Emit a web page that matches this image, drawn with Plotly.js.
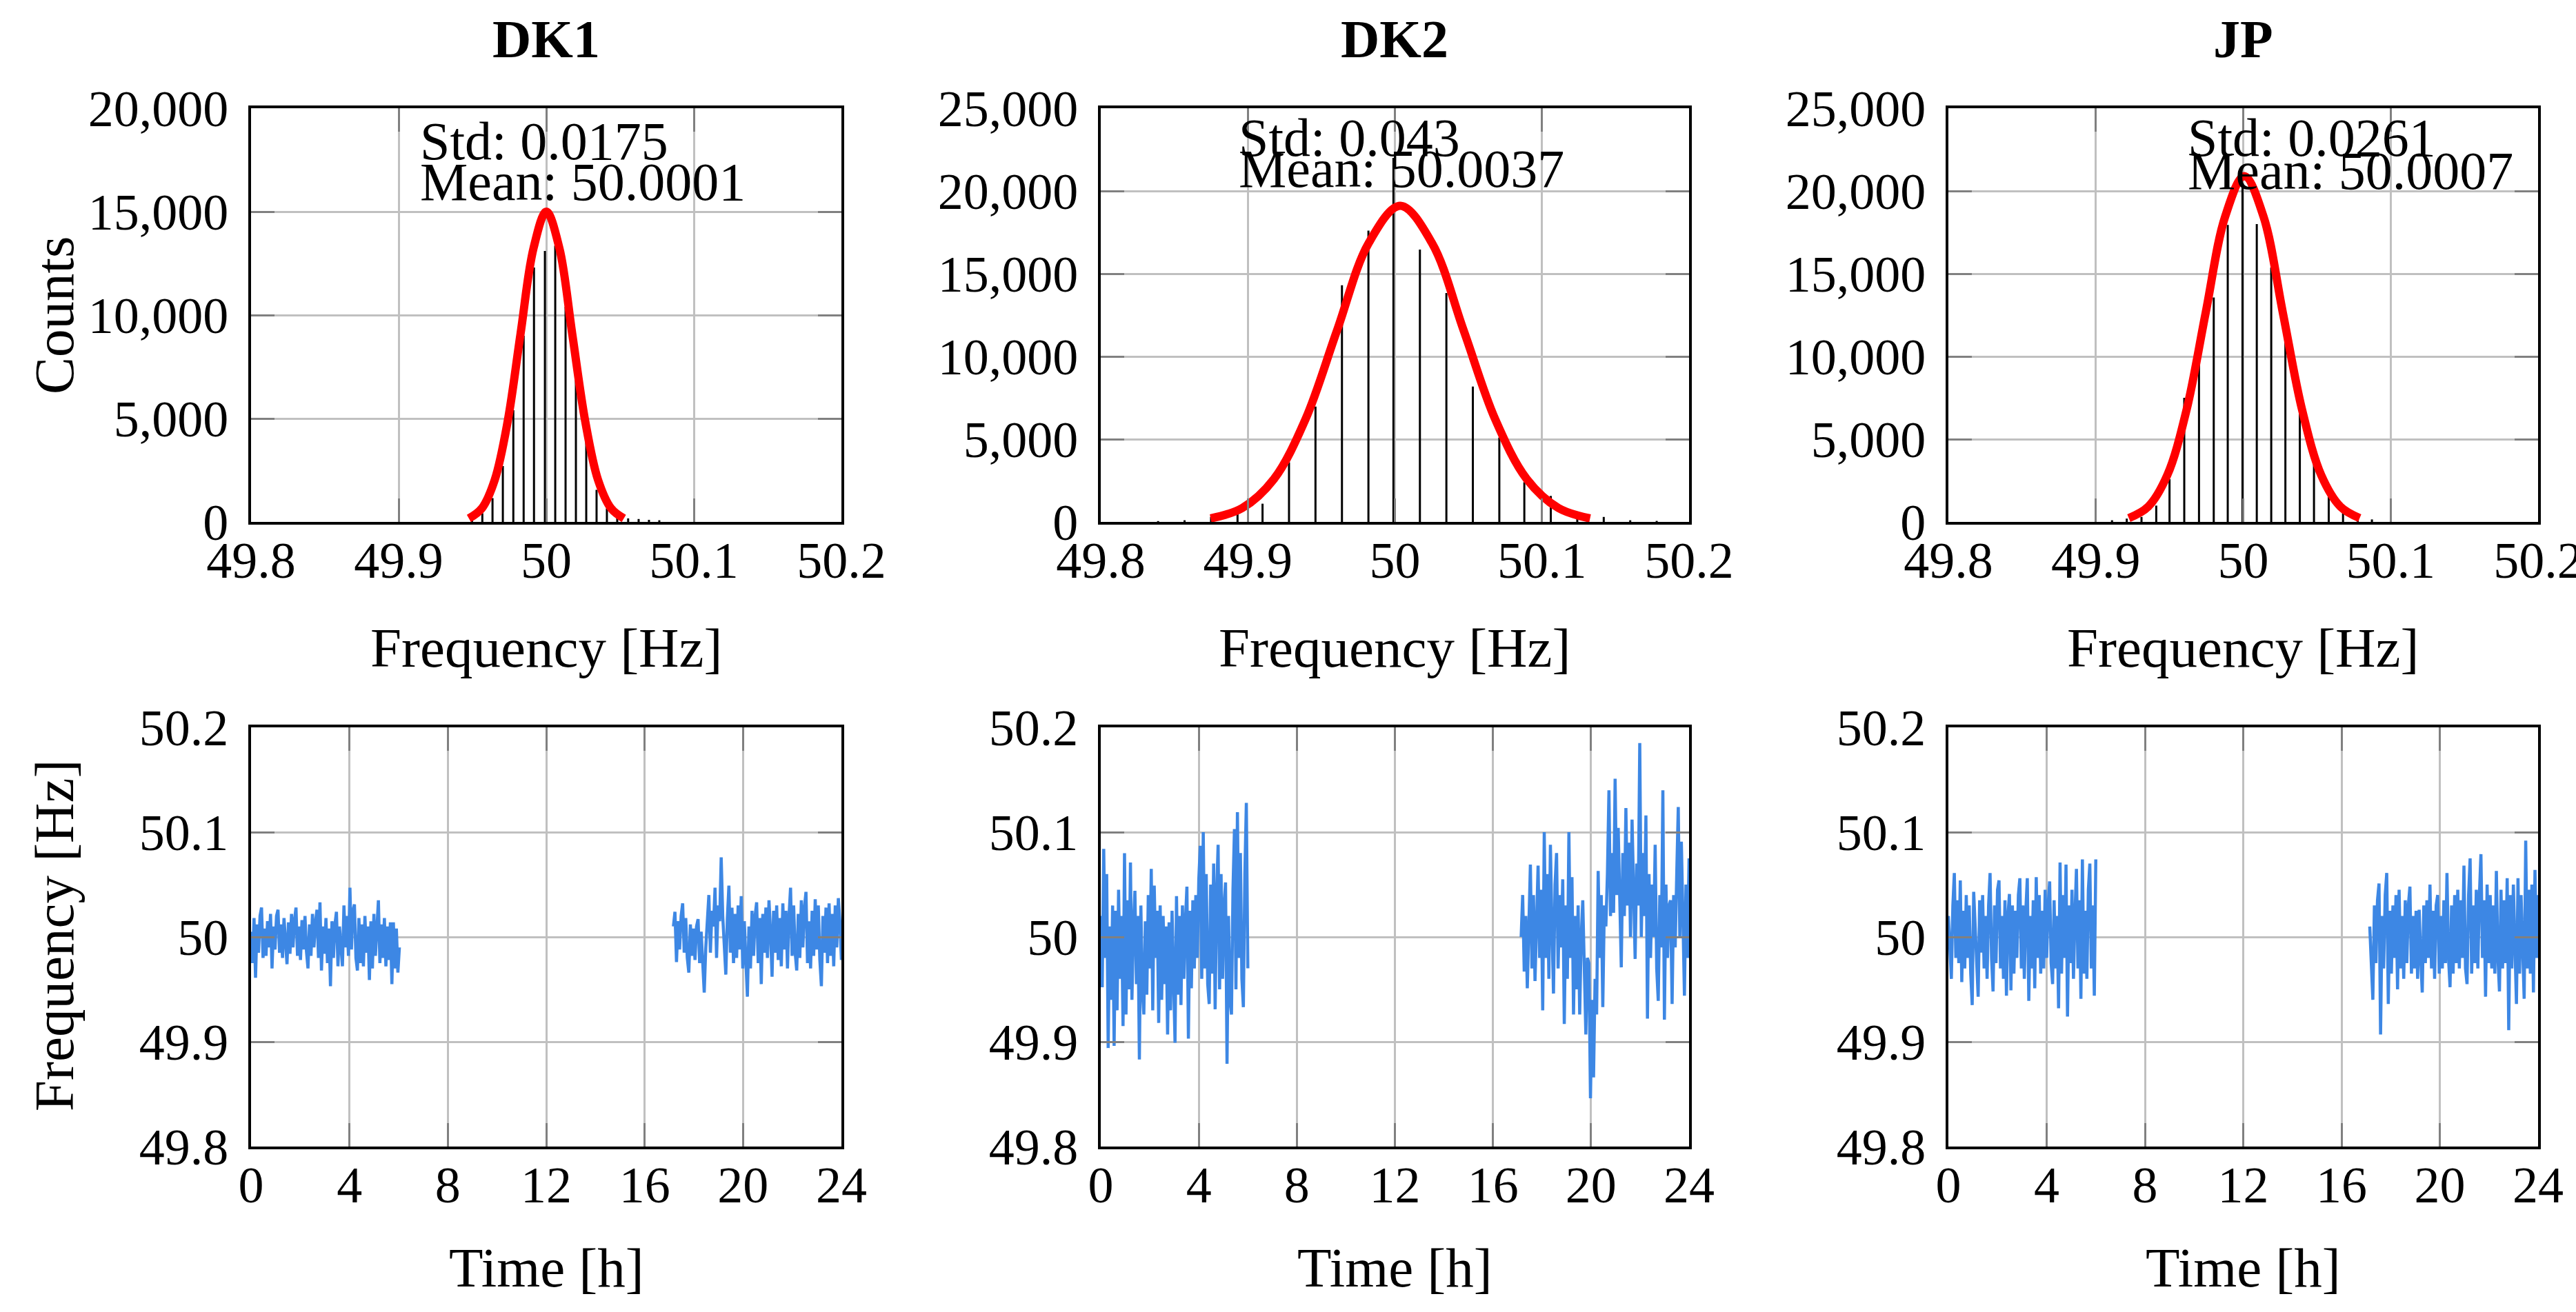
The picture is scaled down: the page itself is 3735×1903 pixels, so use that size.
<!DOCTYPE html>
<html>
<head>
<meta charset="utf-8">
<script src="https://cdn.plot.ly/plotly-3.0.1.min.js"></script>
<style>
  html, body { margin: 0; padding: 0; background: #fff; }
  #chart { width: 3735px; height: 1903px; }
</style>
</head>
<body>
<div id="chart"></div>
<script>
// ---- data ----
const regions = ['DK1', 'DK2', 'JP'];

const freqTicks = [49.8, 49.9, 50, 50.1, 50.2];
const freqTickText = ['49.8', '49.9', '50', '50.1', '50.2'];
const hourTicks = [0, 4, 8, 12, 16, 20, 24];

const fitStd = ['0.0175', '0.043', '0.0261'];
const fitMean = ['50.0001', '50.0037', '50.0007'];
const countMax = [20000, 25000, 25000];

// histogram bins (Hz) and counts
const dk1BinHz = [49.9497, 49.9567, 49.9636, 49.9706, 49.9777, 49.9847, 49.9917, 49.9991, 50.0061, 50.0131,
                  50.0201, 50.0271, 50.0341, 50.0411, 50.0481, 50.0555, 50.0626, 50.0696, 50.0766];
const dk1Counts = [100, 420, 1150, 2700, 5400, 9000, 12300, 13100, 13360, 10400,
                   6900, 3850, 1550, 650, 200, 170, 140, 100, 80];

const dk2BinHz = [49.839, 49.857, 49.875, 49.893, 49.910, 49.928, 49.946, 49.964, 49.982, 49.999,
                  50.017, 50.035, 50.053, 50.071, 50.088, 50.106, 50.124, 50.142, 50.160, 50.178];
const dk2Counts = [50, 100, 300, 550, 1100, 3600, 6970, 14300, 17600, 22000,
                   16460, 13830, 8180, 5100, 2400, 1570, 630, 300, 100, 60];

const jpBinHz = [49.911, 49.921, 49.931, 49.941, 49.950, 49.960, 49.970, 49.980, 49.9895, 49.9995,
                 50.0092, 50.019, 50.0286, 50.0384, 50.048, 50.058, 50.0677, 50.0777, 50.0873];
const jpCounts = [100, 200, 300, 985, 2580, 7500, 9600, 13560, 17950, 20300,
                  18000, 15380, 10980, 6590, 3560, 1590, 530, 230, 150];

// red normal fit, sampled every half std
const dk1FitHz = [49.9476, 49.9564, 49.9651, 49.9739, 49.9826, 49.9914, 50.0001, 50.0089, 50.0176, 50.0264, 50.0351, 50.0439, 50.0526];
const dk1FitCounts = [167, 659, 2030, 4871, 9098, 13238, 15000, 13238, 9098, 4871, 2030, 659, 167];
const dk2FitHz = [49.8747, 49.8962, 49.9177, 49.9392, 49.9607, 49.9822, 50.0037, 50.0252, 50.0467, 50.0682, 50.0897, 50.1112, 50.1327];
const dk2FitCounts = [212, 838, 2584, 6202, 11584, 16856, 19100, 16856, 11584, 6202, 2584, 838, 212];
const jpFitHz = [49.9224, 49.9355, 49.9485, 49.9616, 49.9746, 49.9877, 50.0007, 50.0138, 50.0268, 50.0399, 50.0529, 50.0660, 50.0790];
const jpFitCounts = [232, 918, 2828, 6786, 12675, 18445, 20900, 18445, 12675, 6786, 2828, 918, 232];

// time series: deviation from 50 Hz in mHz, two recorded windows per region
const dk1SpanA = [0, 6.03];
const dk1DevA = [5, -25, 18, -39, 12, -15, 20, 28, -20, 8,
  -18, 15, -10, 22, -30, 10, -12, 20, 26, -15,
  12, -20, 18, -8, -26, 14, -16, 22, -10, 16,
  28, -18, 10, -22, 16, -12, 20, -14, -30, 12,
  -18, 22, -10, 14, 26, -20, 33, -32, 10, -16,
  18, -25, 8, -47, 15, -20, 12, 24, -28, 10,
  -15, -28, 30, -10, 20, -18, 47, -12, 25, 31,
  -20, -32, 18, -25, 12, -28, 20, -15, 10, -41,
  15, -30, 22, -18, 8, 35, -25, 12, -20, 18,
  -28, 10, -22, 14, -45, 14, -30, 8, -34, -10];
const dk1SpanB = [17.17, 24];
const dk1DevB = [10, 24, -24, 15, -12, 20, 32, -15, 18, -20,
  -34, 12, -18, 8, -22, 10, 17, -25, 5, -28,
  -53, -10, 20, 40, -15, 25, 10, 47, -20, 30,
  15, 76, 20, -10, -36, 18, 49, -15, 28, -25,
  22, -20, 30, -12, 39, -30, 15, -22, -57, 10,
  -30, 25, -18, 20, 33, -25, 18, -45, 22, -15,
  28, -20, 35, 5, -38, 25, -15, 30, -22, 18,
  -28, 32, -12, 25, -30, 20, 47, -18, 30, -15,
  -32, 22, -20, 35, -10, 28, 43, -25, 15, -30,
  25, -18, 36, -12, 30, -22, -47, 20, -15, 28,
  -25, 32, -18, 22, -28, 30, -10, 37, 15, -22];

const dk2SpanA = [0, 6.0];
const dk2DevA = [20, -48, 84, -20, 60, -106, 10, -60, 30, -104,
  25, -70, 45, -40, 20, -85, 80, -74, 35, -50,
  71, -60, 10, 44, -45, 20, -117, 30, -50, -74,
  15, -55, 40, -30, 65, -70, 49, -20, 25, -82,
  30, -60, 20, -45, 10, -93, 14, -70, 25, -40,
  -101, 39, -55, 20, -65, 30, -40, 15, 48, -97,
  25, -49, 35, -30, 40, -20, 55, 87, -40, 100,
  -30, 60, -45, -64, 50, -35, 70, -69, 40, 88,
  -50, 60, -40, 30, 52, -121, 20, -60, -74, 45,
  103, -50, 119, -20, 80, -40, -67, 60, 128, -30];
const dk2SpanB = [17.15, 24];
const dk2DevB = [0, 40, -33, 20, -49, 30, 69, -30, 40, -42,
  20, 68, -20, 45, -70, 100, -20, 60, -40, 88,
  10, -54, 50, 80, -30, 40, -10, 55, -83, 30,
  -40, 100, -20, 57, -74, 20, -50, 30, -74, 0,
  35, -40, -93, -20, -25, -154, -60, -134, -40, -74,
  63, -20, 40, -67, 30, 10, 60, 140, 20, 80,
  23, 151, 40, 104, 50, -29, 80, 20, 123, 30,
  90, 0, 112, 40, -21, 70, 30, 185, 0, 80,
  20, 116, -78, 60, -20, 50, 0, 88, -30, -61,
  40, -10, 140, -79, 50, -20, 30, 35, -64, 40,
  -10, 60, 124, 0, 91, 20, -56, 50, -20, 75];

const jpSpanA = [0, 6.0];
const jpDevA = [20, -10, -40, 30, 61, -20, 35, -25, 54, -43,
  25, -30, 40, -20, 30, -35, -65, 43, 10, -30,
  -57, 35, -15, 40, -30, 20, -40, 30, 61, -20,
  -52, 30, -25, 45, 54, -30, 20, -40, 35, -56,
  20, 41, -51, 30, -35, 25, -20, 40, 56, -30,
  30, -40, 25, 56, -61, 20, -30, 35, -49, 57,
  -20, 40, -35, 25, -30, 45, -20, 30, 53, -25,
  -45, 35, -30, 20, -68, 71, -35, 40, -20, 69,
  -76, 30, -25, 45, -40, 20, 65, -30, 35, -59,
  74, -35, 25, -40, 45, 70, -30, 30, -56, 74];
const jpSpanB = [17.15, 24];
const jpDevB = [10, -20, -60, 30, -25, 35, 51, -93, 20, -30,
  40, 61, -64, 25, -35, 30, -20, 40, -50, 45,
  -30, 20, -40, 35, -25, 30, 48, -35, 20, -30,
  25, -40, 26, -20, -53, 30, -25, 35, -20, 50,
  -30, 25, -40, 30, 40, -35, 20, -30, 35, -25,
  61, -20, -48, 30, -35, 40, -25, 45, -30, 35,
  -20, 68, -30, -45, 40, 75, -35, 30, -25, 45,
  -30, 40, 79, -20, 35, -57, 50, -25, 40, -30,
  30, -35, 63, -20, -52, 45, -30, 35, -25, 56,
  -89, 40, -30, 50, -20, -64, 56, -35, 40, -25,
  -59, 92, -30, 45, -35, 50, -53, 64, -20, 40];

// ---- layout helpers ----
const W = 3735, H = 1903;
const colPx = [[364, 1220], [1596, 2449], [2825, 3680]];
const topRowPx = [157, 757];
const botRowPx = [1055, 1663];
const FONT = '"Liberation Serif", "Times New Roman", serif';

const px = v => v / W;
const py = v => 1 - v / H;

function segment(span, devs) {
    const step = (span[1] - span[0]) / (devs.length - 1);
    return {
        t: devs.map((_, i) => span[0] + i * step),
        f: devs.map(d => 50 + d / 1000)
    };
}

function joinSegments(a, b) {
    return { t: a.t.concat([null], b.t), f: a.f.concat([null], b.f) };
}

function baseAxis(extra) {
    return Object.assign({
        showline: true, linecolor: '#000', linewidth: 4, mirror: 'ticks',
        ticks: 'inside', ticklen: 34, tickwidth: 3, tickcolor: '#808080',
        showgrid: true, gridcolor: '#c0c0c0', gridwidth: 3,
        zeroline: false, fixedrange: true,
        tickfont: { family: FONT, size: 74, color: '#000' },
        ticklabeloverflow: 'allow'
    }, extra);
}

const histBins = [dk1BinHz, dk2BinHz, jpBinHz];
const histCounts = [dk1Counts, dk2Counts, jpCounts];
const fitHz = [dk1FitHz, dk2FitHz, jpFitHz];
const fitCounts = [dk1FitCounts, dk2FitCounts, jpFitCounts];
const series = [
    joinSegments(segment(dk1SpanA, dk1DevA), segment(dk1SpanB, dk1DevB)),
    joinSegments(segment(dk2SpanA, dk2DevA), segment(dk2SpanB, dk2DevB)),
    joinSegments(segment(jpSpanA, jpDevA), segment(jpSpanB, jpDevB))
];

const traces = [];
const layout = {
    width: W, height: H,
    margin: { l: 0, r: 0, t: 0, b: 0 },
    paper_bgcolor: '#fff', plot_bgcolor: '#fff',
    showlegend: false,
    annotations: []
};

// annotation anchor points (left edge Hz, line centres px)
const statLeftHz = [49.9136, 49.8928, 49.9614];
const stdLinePx = [204, 199, 199];
const meanLinePx = [264, 245, 247];

regions.forEach((name, i) => {
    const top = i + 1, bot = i + 4;
    const xt = 'x' + (top === 1 ? '' : top), yt = 'y' + (top === 1 ? '' : top);
    const xb = 'x' + bot, yb = 'y' + bot;
    const dom = [px(colPx[i][0]), px(colPx[i][1])];

    layout['xaxis' + (top === 1 ? '' : top)] = baseAxis({
        domain: dom, anchor: yt, range: [49.8, 50.2],
        tickvals: freqTicks, ticktext: freqTickText, ticklabelstandoff: -12
    });
    layout['yaxis' + (top === 1 ? '' : top)] = baseAxis({
        domain: [py(topRowPx[1]), py(topRowPx[0])], anchor: xt,
        range: [0, countMax[i]], dtick: 5000, tickformat: ',', ticklabelstandoff: 14
    });
    layout['xaxis' + bot] = baseAxis({
        domain: dom, anchor: yb, range: [0, 24], tickvals: hourTicks, ticklabelstandoff: -12
    });
    layout['yaxis' + bot] = baseAxis({
        domain: [py(botRowPx[1]), py(botRowPx[0])], anchor: xb,
        range: [49.8, 50.2], tickvals: freqTicks, ticktext: freqTickText, ticklabelstandoff: 14
    });

    traces.push({
        type: 'bar', x: histBins[i], y: histCounts[i], width: 0.0014,
        marker: { color: '#000', line: { width: 0 } },
        xaxis: xt, yaxis: yt, hoverinfo: 'skip'
    });
    traces.push({
        type: 'scatter', mode: 'lines', x: fitHz[i], y: fitCounts[i],
        line: { color: '#ff0000', width: 12, shape: 'spline', smoothing: 1.0 },
        xaxis: xt, yaxis: yt, hoverinfo: 'skip'
    });
    traces.push({
        type: 'scatter', mode: 'lines', x: series[i].t, y: series[i].f,
        connectgaps: false,
        line: { color: '#3d87e4', width: 4.5 },
        xaxis: xb, yaxis: yb, hoverinfo: 'skip'
    });

    const cx = (colPx[i][0] + colPx[i][1]) / 2;
    layout.annotations.push(
        { text: '<b>' + name + '</b>', xref: 'paper', yref: 'paper', x: px(cx), y: py(57),
          xanchor: 'center', yanchor: 'middle', showarrow: false,
          font: { family: FONT, size: 78, color: '#000' } },
        { text: 'Frequency [Hz]', xref: 'paper', yref: 'paper', x: px(cx), y: py(940),
          xanchor: 'center', yanchor: 'middle', showarrow: false,
          font: { family: FONT, size: 81, color: '#000' } },
        { text: 'Time [h]', xref: 'paper', yref: 'paper', x: px(cx), y: py(1839),
          xanchor: 'center', yanchor: 'middle', showarrow: false,
          font: { family: FONT, size: 81, color: '#000' } },
        { text: 'Std: ' + fitStd[i], xref: xt, yref: 'paper', x: statLeftHz[i], y: py(stdLinePx[i]),
          xanchor: 'left', yanchor: 'middle', showarrow: false,
          font: { family: FONT, size: 78, color: '#000' } },
        { text: 'Mean: ' + fitMean[i], xref: xt, yref: 'paper', x: statLeftHz[i], y: py(meanLinePx[i]),
          xanchor: 'left', yanchor: 'middle', showarrow: false,
          font: { family: FONT, size: 78, color: '#000' } }
    );
});

layout.annotations.push(
    { text: 'Counts', xref: 'paper', yref: 'paper', x: px(79), y: py(457),
      xanchor: 'center', yanchor: 'middle', textangle: -90, showarrow: false,
      font: { family: FONT, size: 81, color: '#000' } },
    { text: 'Frequency [Hz]', xref: 'paper', yref: 'paper', x: px(79), y: py(1357),
      xanchor: 'center', yanchor: 'middle', textangle: -90, showarrow: false,
      font: { family: FONT, size: 81, color: '#000' } }
);

Plotly.newPlot('chart', traces, layout, { staticPlot: true, displayModeBar: false });
</script>
</body>
</html>
